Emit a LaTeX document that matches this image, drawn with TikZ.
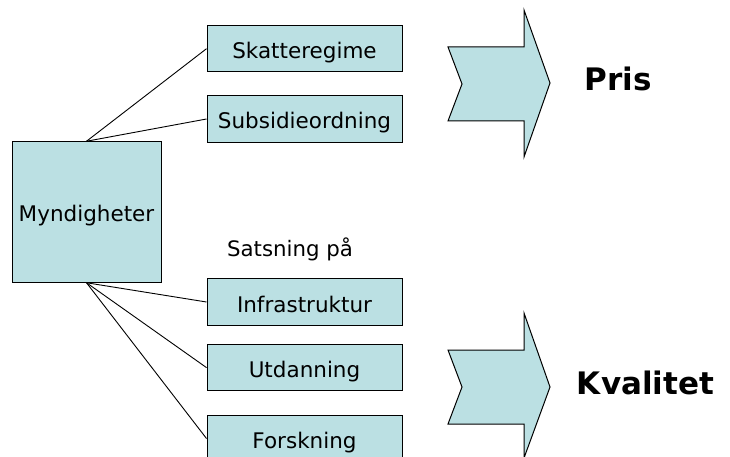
\documentclass[tikz,border=0pt]{standalone}
\usepackage{fontspec}
\setmainfont{DejaVu Sans}
\begin{document}
\begin{tikzpicture}[x=1pt,y=-1pt,
  boxfill/.style={fill={rgb,255:red,187;green,224;blue,227}},
  item/.style={boxfill,draw=black,line width=1pt,minimum width=195pt,minimum height=46.5pt,
    inner sep=0pt,text height=20pt,text depth=0pt,font=\fontsize{21.5}{24}\selectfont},
  link/.style={draw=black,line width=0.9pt},
  bigarrow/.style={boxfill,draw=black,line width=1pt,line join=miter},
  result/.style={font=\fontsize{31}{34}\selectfont\bfseries,inner sep=0pt}]
\useasboundingbox (0,0) rectangle (730,457);
\begin{scope}
\clip (0,0) rectangle (730,457);

% authority box
\node[item,minimum width=149pt,minimum height=140.5pt,text height=18pt] (myn) at (86.5,212) {Myndigheter};

% price-side instruments
\node[item] (skatt) at (304.5,48.7) {Skatteregime};
\node[item] (subs) at (304.5,119) {Subsidieordning};

% quality-side instruments
\node[font=\fontsize{21.3}{24}\selectfont,inner sep=0pt] (sats) at (290,249) {Satsning på};
\node[item] (infra) at (304.5,302) {Infrastruktur};
\node[item] (utd) at (304.5,367.6) {Utdanning};
\node[item] (forsk) at (304.5,438.5) {Forskning};

% connectors
\draw[link] (myn.north) -- (skatt.west);
\draw[link] (myn.north) -- (subs.west);
\draw[link] (myn.south) -- (infra.west);
\draw[link] (myn.south) -- (utd.west);
\draw[link] (myn.south) -- (forsk.west);

% outcome arrows
\draw[bigarrow] (448,47) -- (524,47) -- (524,10) -- (550,83) -- (524,157)
  -- (524,121) -- (448,121) -- (462,84) -- cycle;
\draw[bigarrow] (448,350) -- (524,350) -- (524,313) -- (550,387) -- (524,458)
  -- (524,424) -- (448,424) -- (462,387) -- cycle;

% outcomes
\node[result] (pris) at (618.5,79) {Pris};
\node[result] (kval) at (645.5,383) {Kvalitet};
\end{scope}
\end{tikzpicture}
\end{document}
